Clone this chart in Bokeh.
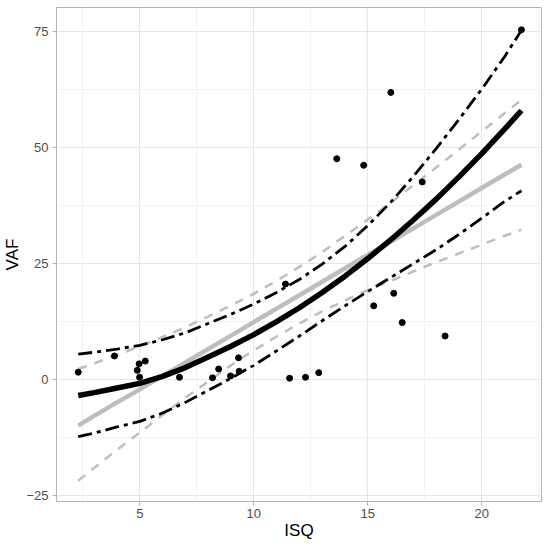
from bokeh.plotting import figure
from bokeh.models import Range1d, FixedTicker
from bokeh.embed import file_html
from bokeh.resources import INLINE

# Scatter data
isq = [2.30, 3.89, 4.97, 5.24, 4.89, 4.99, 6.74, 8.19, 8.46, 8.98, 9.33, 9.36,
       11.39, 11.57, 12.27, 12.85, 13.64, 14.82, 15.26, 16.01, 16.14, 16.51,
       17.39, 18.39, 21.74]
vaf = [1.5, 5.0, 3.3, 3.9, 1.9, 0.4, 0.4, 0.3, 2.2, 0.7, 4.6, 1.7,
       20.5, 0.2, 0.4, 1.4, 47.5, 46.1, 15.8, 61.8, 18.5, 12.2,
       42.5, 9.3, 75.3]

# Fitted curves
fit_x = [2.3, 3, 4, 5, 6, 7, 8, 9, 10, 11, 12, 13, 14, 15, 16, 17, 18, 19, 20, 21, 21.74]
lin_fit = [-10.0, -7.9, -5.0, -2.2, 0.7, 3.6, 6.5, 9.4, 12.3, 15.2, 18.1, 21.0,
           23.9, 26.8, 29.6, 32.5, 35.4, 38.3, 41.2, 44.1, 46.2]
lin_upper = [2.2, 3.4, 5.2, 7.1, 9.1, 11.2, 13.5, 15.9, 18.4, 21.2, 24.2, 27.4,
             30.9, 34.4, 38.0, 41.8, 45.6, 49.5, 53.4, 57.3, 60.2]
lin_lower = [-21.9, -19.1, -15.2, -11.5, -7.7, -4.0, -0.5, 3.0, 6.2, 9.2, 12.0, 14.6,
             17.0, 19.2, 21.2, 23.2, 25.2, 27.1, 29.0, 30.9, 32.2]
quad_fit = [-3.5, -2.9, -1.9, -0.9, 0.6, 2.5, 4.8, 7.1, 9.6, 12.4, 15.4, 18.7,
            22.2, 26.0, 30.0, 34.3, 38.8, 43.6, 48.6, 53.9, 57.9]
quad_upper = [5.4, 5.8, 6.5, 7.3, 8.5, 10.0, 12.0, 14.0, 16.2, 18.7, 21.5, 24.8,
              28.6, 33.1, 38.1, 43.7, 49.7, 56.0, 62.5, 69.5, 75.2]
quad_lower = [-12.4, -11.6, -10.3, -9.1, -7.3, -5.0, -2.4, 0.2, 3.0, 6.1, 9.3, 12.6,
              15.8, 18.9, 21.9, 24.9, 27.9, 31.2, 34.7, 38.3, 40.6]

x_ticks = [5, 10, 15, 20]
x_minor = [2.5, 7.5, 12.5, 17.5, 22.5]
y_ticks = [-25, 0, 25, 50, 75]
y_minor = [-12.5, 12.5, 37.5, 62.5]

FONT = "Liberation Sans"
GREY = "#BEBEBE"

p = figure(width=542, height=542, output_backend="svg", toolbar_location=None,
           x_range=Range1d(1.346, 22.62), y_range=Range1d(-26.36, 80.1),
           min_border_left=56, min_border_right=1, min_border_top=7,
           min_border_bottom=41)
p.background_fill_color = "white"
p.border_fill_color = "white"
p.outline_line_color = "#B3B3B3"
p.outline_line_width = 1

p.xaxis.ticker = FixedTicker(ticks=x_ticks, minor_ticks=x_minor)
p.yaxis.ticker = FixedTicker(ticks=y_ticks, minor_ticks=y_minor)
p.xgrid.ticker = FixedTicker(ticks=x_ticks, minor_ticks=x_minor)
p.ygrid.ticker = FixedTicker(ticks=y_ticks, minor_ticks=y_minor)
p.yaxis.major_label_overrides = {-25: "\u221225"}

for g in (p.xgrid, p.ygrid):
    g.grid_line_color = "#E6E6E6"
    g.grid_line_width = 1
    g.minor_grid_line_color = "#F2F2F2"
    g.minor_grid_line_width = 1

for ax in (p.xaxis, p.yaxis):
    ax.axis_line_color = None
    ax.major_tick_line_color = "#B3B3B3"
    ax.major_tick_out = 4
    ax.major_tick_in = 0
    ax.minor_tick_line_color = None
    ax.major_label_text_font = FONT
    ax.major_label_text_font_size = "13px"
    ax.major_label_text_color = "#4D4D4D"
    ax.axis_label_text_font = FONT
    ax.axis_label_text_font_size = "17px"
    ax.axis_label_text_font_style = "normal"
    ax.axis_label_text_color = "black"

p.xaxis.axis_label = "ISQ"
p.yaxis.axis_label = "VAF"
p.xaxis.major_label_standoff = 3
p.xaxis.axis_label_standoff = 0
p.yaxis.major_label_standoff = 4
p.yaxis.axis_label_standoff = 1

# Linear fit (grey)
p.line(fit_x, lin_fit, line_color=GREY, line_width=4.5)
p.line(fit_x, lin_upper, line_color=GREY, line_width=2.5, line_dash="9 8")
p.line(fit_x, lin_lower, line_color=GREY, line_width=2.5, line_dash="9 8")

# Quadratic fit (black)
p.line(fit_x, quad_fit, line_color="black", line_width=5.5)
p.line(fit_x, quad_upper, line_color="black", line_width=2.8, line_dash="14 5 4 5")
p.line(fit_x, quad_lower, line_color="black", line_width=2.8, line_dash="14 5 4 5")

p.scatter(isq, vaf, size=6, color="black")

open("out.html", "w").write(file_html(p, INLINE))
